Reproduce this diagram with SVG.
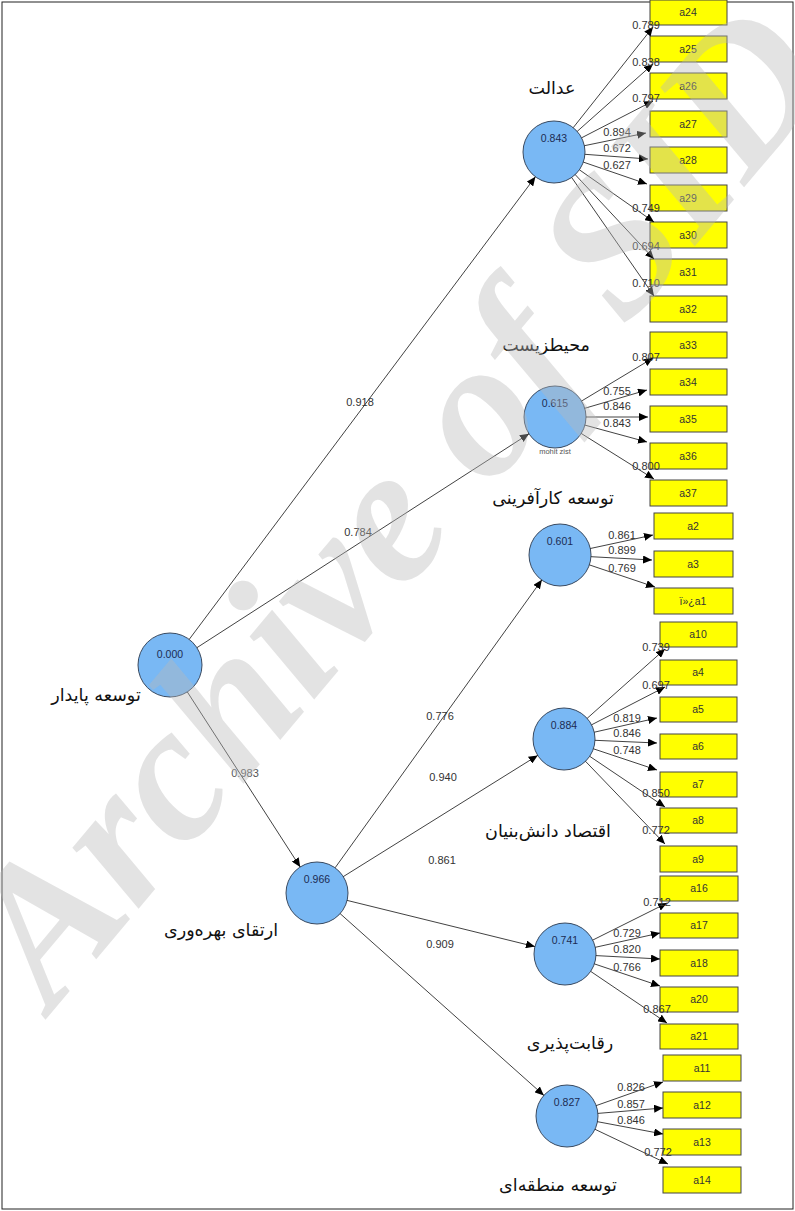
<svg xmlns="http://www.w3.org/2000/svg" width="795" height="1211" viewBox="0 0 795 1211">
<defs>
<marker id="ah" markerUnits="userSpaceOnUse" markerWidth="10" markerHeight="8" refX="9" refY="4" orient="auto"><path d="M0,0 L9,4 L0,8 Z" fill="#000"/></marker>
<style>
.lv{fill:#79b8f4;stroke:#3a4a60;stroke-width:1}
.lvv{font-family:"Liberation Sans",Arial,sans-serif;font-size:10.5px;fill:#1c2b52;text-anchor:middle}
.bx{fill:#ffff00;stroke:#444;stroke-width:1}
.bt{font-family:"Liberation Sans",Arial,sans-serif;font-size:10.5px;fill:#333;text-anchor:middle}
.ln{stroke:#111;stroke-width:0.8;fill:none;marker-end:url(#ah)}
.ld{font-family:"Liberation Sans",Arial,sans-serif;font-size:11px;fill:#333;text-anchor:middle}
.pc{font-family:"Liberation Sans",Arial,sans-serif;font-size:11px;fill:#555;text-anchor:middle}
.fa{font-family:"DejaVu Sans","Noto Sans",sans-serif;font-size:17.5px;fill:#111;text-anchor:middle}
</style>
</defs>
<rect x="0" y="0" width="795" height="1211" fill="#fff"/>
<rect x="2" y="2" width="791" height="1207" fill="none" stroke="#222" stroke-width="1"/>

<g id="lv-paydar"><circle class="lv" cx="170" cy="665" r="32"/><text class="lvv" x="170" y="658">0.000</text><text class="fa" x="96" y="701">توسعه پایدار</text></g>
<g id="lv-adalat"><circle class="lv" cx="554" cy="152" r="31"/><text class="lvv" x="554" y="142">0.843</text><text class="fa" x="552" y="94">عدالت</text></g>
<g id="lv-mohit"><circle class="lv" cx="555" cy="417" r="31"/><text class="lvv" x="555" y="407">0.615</text><text x="555" y="454" font-family="Liberation Sans,Arial,sans-serif" font-size="7.5" fill="#555" text-anchor="middle">mohit zist</text><text class="fa" x="546" y="351">محیطزیست</text></g>
<g id="lv-karafarini"><circle class="lv" cx="560" cy="555" r="31"/><text class="lvv" x="560" y="545">0.601</text><text class="fa" x="553" y="504">توسعه کارآفرینی</text></g>
<g id="lv-eghtesad"><circle class="lv" cx="564" cy="739" r="31"/><text class="lvv" x="564" y="729">0.884</text><text class="fa" x="548" y="837">اقتصاد دانش‌بنیان</text></g>
<g id="lv-bahrevari"><circle class="lv" cx="317" cy="893" r="31"/><text class="lvv" x="317" y="883">0.966</text><text class="fa" x="221" y="936">ارتقای بهره‌وری</text></g>
<g id="lv-reghabat"><circle class="lv" cx="565" cy="954" r="31"/><text class="lvv" x="565" y="944">0.741</text><text class="fa" x="570" y="1049">رقابت‌پذیری</text></g>
<g id="lv-mantaghe"><circle class="lv" cx="567" cy="1116" r="31"/><text class="lvv" x="567" y="1106">0.827</text><text class="fa" x="558" y="1191">توسعه منطقه‌ای</text></g>

<g id="ind-a24"><rect class="bx" x="650" y="0" width="77" height="25"/><text class="bt" x="688" y="16">a24</text></g>
<g id="ind-a25"><rect class="bx" x="650" y="36" width="77" height="26"/><text class="bt" x="688" y="53">a25</text></g>
<g id="ind-a26"><rect class="bx" x="650" y="73" width="77" height="26"/><text class="bt" x="688" y="90">a26</text></g>
<g id="ind-a27"><rect class="bx" x="650" y="111" width="77" height="26"/><text class="bt" x="688" y="128">a27</text></g>
<g id="ind-a28"><rect class="bx" x="650" y="147" width="77" height="26"/><text class="bt" x="688" y="164">a28</text></g>
<g id="ind-a29"><rect class="bx" x="650" y="185" width="77" height="26"/><text class="bt" x="688" y="202">a29</text></g>
<g id="ind-a30"><rect class="bx" x="650" y="222" width="77" height="26"/><text class="bt" x="688" y="239">a30</text></g>
<g id="ind-a31"><rect class="bx" x="650" y="259" width="77" height="26"/><text class="bt" x="688" y="276">a31</text></g>
<g id="ind-a32"><rect class="bx" x="650" y="296" width="77" height="26"/><text class="bt" x="688" y="313">a32</text></g>
<g id="ind-a33"><rect class="bx" x="650" y="332" width="77" height="26"/><text class="bt" x="688" y="349">a33</text></g>
<g id="ind-a34"><rect class="bx" x="650" y="369" width="77" height="26"/><text class="bt" x="688" y="386">a34</text></g>
<g id="ind-a35"><rect class="bx" x="650" y="406" width="77" height="26"/><text class="bt" x="688" y="423">a35</text></g>
<g id="ind-a36"><rect class="bx" x="650" y="443" width="77" height="26"/><text class="bt" x="688" y="460">a36</text></g>
<g id="ind-a37"><rect class="bx" x="650" y="480" width="77" height="26"/><text class="bt" x="688" y="497">a37</text></g>
<g id="ind-a2"><rect class="bx" x="654" y="513" width="79" height="26"/><text class="bt" x="693" y="530">a2</text></g>
<g id="ind-a3"><rect class="bx" x="654" y="551" width="79" height="26"/><text class="bt" x="693" y="568">a3</text></g>
<g id="ind-a1"><rect class="bx" x="654" y="588" width="79" height="26"/><text class="bt" x="693" y="605" direction="ltr" unicode-bidi="bidi-override">ï»¿a1</text></g>
<g id="ind-a10"><rect class="bx" x="660" y="622" width="77" height="25"/><text class="bt" x="698" y="638">a10</text></g>
<g id="ind-a4"><rect class="bx" x="660" y="660" width="77" height="25"/><text class="bt" x="698" y="676">a4</text></g>
<g id="ind-a5"><rect class="bx" x="660" y="697" width="77" height="25"/><text class="bt" x="698" y="713">a5</text></g>
<g id="ind-a6"><rect class="bx" x="660" y="734" width="77" height="25"/><text class="bt" x="698" y="750">a6</text></g>
<g id="ind-a7"><rect class="bx" x="660" y="772" width="77" height="25"/><text class="bt" x="698" y="788">a7</text></g>
<g id="ind-a8"><rect class="bx" x="660" y="808" width="77" height="25"/><text class="bt" x="698" y="824">a8</text></g>
<g id="ind-a9"><rect class="bx" x="660" y="846" width="77" height="26"/><text class="bt" x="698" y="863">a9</text></g>
<g id="ind-a16"><rect class="bx" x="660" y="876" width="78" height="25"/><text class="bt" x="699" y="892">a16</text></g>
<g id="ind-a17"><rect class="bx" x="660" y="913" width="78" height="25"/><text class="bt" x="699" y="929">a17</text></g>
<g id="ind-a18"><rect class="bx" x="660" y="950" width="78" height="26"/><text class="bt" x="699" y="967">a18</text></g>
<g id="ind-a20"><rect class="bx" x="660" y="987" width="78" height="25"/><text class="bt" x="699" y="1003">a20</text></g>
<g id="ind-a21"><rect class="bx" x="660" y="1024" width="78" height="25"/><text class="bt" x="699" y="1040">a21</text></g>
<g id="ind-a11"><rect class="bx" x="663" y="1055" width="78" height="26"/><text class="bt" x="702" y="1072">a11</text></g>
<g id="ind-a12"><rect class="bx" x="663" y="1092" width="78" height="26"/><text class="bt" x="702" y="1109">a12</text></g>
<g id="ind-a13"><rect class="bx" x="663" y="1129" width="78" height="26"/><text class="bt" x="702" y="1146">a13</text></g>
<g id="ind-a14"><rect class="bx" x="663" y="1167" width="78" height="26"/><text class="bt" x="702" y="1184">a14</text></g>

<g id="connectors">
<line class="ln" x1="189.2" y1="639.4" x2="535.4" y2="176.8"/>
<line class="ln" x1="196.9" y1="647.7" x2="528.9" y2="433.8"/>
<line class="ln" x1="187.3" y1="691.9" x2="300.2" y2="867"/>
<line class="ln" x1="335.1" y1="867.8" x2="541.9" y2="579.8"/>
<line class="ln" x1="343.3" y1="876.6" x2="537.7" y2="755.4"/>
<line class="ln" x1="347.1" y1="900.4" x2="534.9" y2="946.6"/>
<line class="ln" x1="340.1" y1="913.6" x2="543.9" y2="1095.4"/>
<text class="ld" x="360" y="406">0.918</text>
<text class="ld" x="358" y="536">0.784</text>
<text class="pc" x="245" y="777">0.983</text>
<text class="ld" x="440" y="720">0.776</text>
<text class="ld" x="443" y="781">0.940</text>
<text class="ld" x="442" y="864">0.861</text>
<text class="ld" x="440" y="948">0.909</text>

<line class="ln" x1="573.2" y1="127.7" x2="653" y2="27"/>
<line class="ln" x1="577.2" y1="131.4" x2="653" y2="64"/>
<line class="ln" x1="581.6" y1="137.8" x2="653" y2="101"/>
<line class="ln" x1="584.4" y1="145.7" x2="646" y2="133"/>
<line class="ln" x1="584.9" y1="154.3" x2="648" y2="159"/>
<line class="ln" x1="583.3" y1="162.1" x2="647" y2="184"/>
<line class="ln" x1="579.4" y1="169.8" x2="654" y2="222"/>
<line class="ln" x1="575.2" y1="174.6" x2="654" y2="259"/>
<line class="ln" x1="571.7" y1="177.5" x2="654" y2="296"/>
<text class="ld" x="646" y="29">0.789</text>
<text class="ld" x="646" y="66">0.838</text>
<text class="ld" x="646" y="102">0.797</text>
<text class="ld" x="617" y="136">0.894</text>
<text class="ld" x="617" y="152">0.672</text>
<text class="ld" x="617" y="169">0.627</text>
<text class="ld" x="646" y="212">0.749</text>
<text class="ld" x="646" y="250">0.694</text>
<text class="ld" x="646" y="287">0.710</text>

<line class="ln" x1="581.6" y1="401" x2="653" y2="358"/>
<line class="ln" x1="584.7" y1="408.3" x2="647" y2="390"/>
<line class="ln" x1="586" y1="417" x2="648" y2="417"/>
<line class="ln" x1="584.9" y1="425.1" x2="647" y2="442"/>
<line class="ln" x1="581.3" y1="433.5" x2="654" y2="479"/>
<text class="ld" x="646" y="361">0.807</text>
<text class="ld" x="617" y="395">0.755</text>
<text class="ld" x="617" y="410">0.846</text>
<text class="ld" x="617" y="427">0.843</text>
<text class="ld" x="646" y="470">0.800</text>

<line class="ln" x1="590.3" y1="548.5" x2="653" y2="535"/>
<line class="ln" x1="591" y1="556.7" x2="652" y2="560"/>
<line class="ln" x1="589.4" y1="564.9" x2="655" y2="587"/>
<text class="ld" x="622" y="539">0.861</text>
<text class="ld" x="622" y="554">0.899</text>
<text class="ld" x="622" y="572">0.769</text>

<line class="ln" x1="587.1" y1="718.4" x2="665" y2="649"/>
<line class="ln" x1="591.6" y1="724.8" x2="665" y2="687"/>
<line class="ln" x1="594.3" y1="732.2" x2="657" y2="718"/>
<line class="ln" x1="595" y1="740.3" x2="657" y2="743"/>
<line class="ln" x1="593.4" y1="748.8" x2="657" y2="770"/>
<line class="ln" x1="589.7" y1="756.3" x2="665" y2="807"/>
<line class="ln" x1="585.5" y1="761.3" x2="665" y2="844"/>
<text class="ld" x="656" y="651">0.739</text>
<text class="ld" x="656" y="689">0.697</text>
<text class="ld" x="627" y="722">0.819</text>
<text class="ld" x="627" y="737">0.846</text>
<text class="ld" x="627" y="754">0.748</text>
<text class="ld" x="656" y="797">0.850</text>
<text class="ld" x="656" y="834">0.772</text>

<line class="ln" x1="592.7" y1="940.1" x2="667" y2="903"/>
<line class="ln" x1="595.3" y1="947.3" x2="660" y2="933"/>
<line class="ln" x1="596" y1="955.6" x2="660" y2="959"/>
<line class="ln" x1="594.4" y1="963.9" x2="660" y2="986"/>
<line class="ln" x1="590.7" y1="971.4" x2="667" y2="1023"/>
<text class="ld" x="657" y="906">0.712</text>
<text class="ld" x="627" y="937">0.729</text>
<text class="ld" x="627" y="953">0.820</text>
<text class="ld" x="627" y="971">0.766</text>
<text class="ld" x="657" y="1013">0.867</text>

<line class="ln" x1="596.2" y1="1105.6" x2="663" y2="1082"/>
<line class="ln" x1="597.9" y1="1113.4" x2="663" y2="1108"/>
<line class="ln" x1="597.5" y1="1121.7" x2="663" y2="1134"/>
<line class="ln" x1="595" y1="1129.3" x2="668" y2="1164"/>
<text class="ld" x="631" y="1091">0.826</text>
<text class="ld" x="631" y="1108">0.857</text>
<text class="ld" x="631" y="1124">0.846</text>
<text class="ld" x="658" y="1156">0.772</text>
</g>

<text x="52" y="1012" transform="rotate(-50 52 1012)" font-family="'Liberation Serif','Times New Roman',serif" font-weight="bold" font-style="italic" font-size="196" fill="#b8b8b8" fill-opacity="0.4">Archive of SID</text>
</svg>
